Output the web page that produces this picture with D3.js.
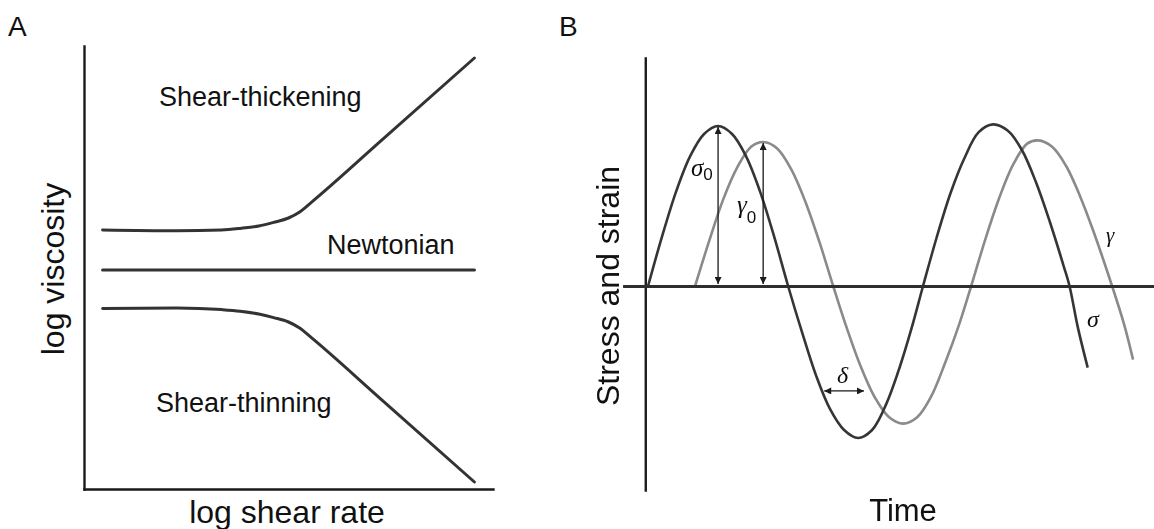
<!DOCTYPE html>
<html>
<head>
<meta charset="utf-8">
<script src="https://cdn.jsdelivr.net/npm/d3@7/dist/d3.min.js"></script>
<style>
  body { margin: 0; background: #fff; }
  svg { display: block; }
  text { font-family: "Liberation Sans", Arial, sans-serif; fill: #111; }
  .greek { font-family: "Liberation Serif", "Times New Roman", serif; font-style: italic; }
</style>
</head>
<body>
<svg id="fig" width="1154" height="529"></svg>
<script>
// ---------- Panel A: viscosity versus shear rate (log-log, schematic) ----------
const shearRate   = [0, 2, 3.2, 3.7, 4.2, 4.6, 5.0, 5.3, 5.6, 7.5, 10];
const thickening  = [1.0, 0.98, 1.0, 1.04, 1.10, 1.19, 1.30, 1.45, 1.68, 3.24, 5.30];
const newtonian   = [0, 0, 0, 0, 0, 0, 0, 0, 0, 0, 0];
const thinning    = [-0.96, -0.95, -0.99, -1.03, -1.10, -1.19, -1.30, -1.45, -1.68, -3.24, -5.30];
const flowLabels  = ["Shear-thickening", "Newtonian", "Shear-thinning"];

// ---------- Panel B: oscillatory stress and strain ----------
const sigmaTime  = [0, 0.5, 1, 1.5, 2, 2.5, 3, 3.5, 4, 4.5, 5, 5.5, 6, 6.5, 7, 7.5, 8, 8.5, 9, 9.4, 9.82,
                    10.3, 10.8, 11.3, 11.8, 12.32, 12.85, 13.35, 13.85, 14.35, 14.85, 15.05, 15.35, 15.7];
const sigmaValue = [0, 0.31, 0.59, 0.81, 0.95, 1.0, 0.95, 0.81, 0.59, 0.31, 0, -0.29, -0.56, -0.77, -0.90, -0.95,
                    -0.90, -0.74, -0.50, -0.27, 0, 0.30, 0.58, 0.80, 0.96, 1.01, 0.97, 0.85, 0.65, 0.40, 0.12, 0, -0.26, -0.51];
const gammaTime  = [1.68, 2.18, 2.68, 3.18, 3.68, 4.11, 4.61, 5.11, 5.61, 6.11, 6.61, 7.11, 7.61, 8.11, 8.61, 9.11,
                    9.61, 10.11, 10.61, 11.11, 11.54, 12.04, 12.54, 13.04, 13.54, 13.93, 14.43, 14.93, 15.43, 15.93,
                    16.57, 17.0, 17.32];
const gammaValue = [0, 0.28, 0.54, 0.74, 0.87, 0.90, 0.86, 0.73, 0.53, 0.28, 0, -0.27, -0.51, -0.70, -0.82, -0.86,
                    -0.82, -0.69, -0.48, -0.24, 0, 0.29, 0.55, 0.76, 0.89, 0.91, 0.87, 0.75, 0.56, 0.33, 0, -0.24, -0.46];
const amplitudeTime  = [2.5, 4.11];   // σ0 and γ0 arrows
const amplitudeValue = [1.0, 0.90];
const lagTime  = [6.29, 7.71];        // δ arrow span
const lagValue = -0.656;

const svg = d3.select("#fig");
const defs = svg.append("defs");
defs.append("filter").attr("id", "soft")
  .append("feGaussianBlur").attr("stdDeviation", 0.55);
defs.append("marker")
  .attr("id", "head").attr("viewBox", "0 0 10 10")
  .attr("refX", 10).attr("refY", 5)
  .attr("markerWidth", 9).attr("markerHeight", 7)
  .attr("markerUnits", "userSpaceOnUse")
  .attr("orient", "auto-start-reverse")
  .append("path").attr("d", "M0,0L10,5L0,10z").attr("fill", "#1a1a1a");

// ================= Panel A =================
const xA = d3.scaleLinear().domain([-0.5, 10.5]).range([84, 493]);
const yA = d3.scaleLinear().domain([-5.475, 5.6]).range([489, 46]);
const gA = svg.append("g");

const axisStyle = (g, w, c) => {
  g.select(".domain").attr("stroke", c).attr("stroke-width", w).attr("stroke-linecap", "square");
  g.selectAll(".tick").remove();
};
gA.append("g").attr("transform", `translate(0,${yA(-5.475)})`)
  .call(d3.axisBottom(xA).ticks(0).tickSizeOuter(0)).call(axisStyle, 2.4, "#1a1a1a");
gA.append("g").attr("transform", `translate(${xA(-0.5)},0)`)
  .call(d3.axisLeft(yA).ticks(0).tickSizeOuter(0)).call(axisStyle, 2.4, "#1a1a1a");

const lineA = d3.line().x(d => xA(d[0])).y(d => yA(d[1])).curve(d3.curveMonotoneX);
[thickening, newtonian, thinning].forEach(series => {
  gA.append("path")
    .datum(shearRate.map((r, i) => [r, series[i]]))
    .attr("d", lineA)
    .attr("fill", "none").attr("stroke", "#333").attr("stroke-width", 3)
    .attr("stroke-linecap", "round");
});

gA.append("text").attr("x", 159).attr("y", 106).attr("font-size", 27).text(flowLabels[0]);
gA.append("text").attr("x", 327).attr("y", 254).attr("font-size", 27).text(flowLabels[1]);
gA.append("text").attr("x", 156).attr("y", 412).attr("font-size", 27).text(flowLabels[2]);

gA.append("text").attr("x", 287).attr("y", 523).attr("font-size", 32)
  .attr("text-anchor", "middle").text("log shear rate");
gA.append("text").attr("transform", "translate(64,269) rotate(-90)").attr("font-size", 32)
  .attr("text-anchor", "middle").text("log viscosity");
svg.append("text").attr("x", 8).attr("y", 36).attr("font-size", 28).text("A");

// ================= Panel B =================
const xB = d3.scaleLinear().domain([-0.86, 18.1]).range([624, 1154.9]);
const yB = d3.scaleLinear().domain([-1.275, 1.425]).range([490, 58]);
const gB = svg.append("g").attr("filter", "url(#soft)");

gB.append("g").attr("transform", `translate(${xB(-0.1)},0)`)
  .call(d3.axisLeft(yB).ticks(0).tickSizeOuter(0)).call(axisStyle, 2.4, "#1e1e1e");

const lineB = d3.line().x(d => xB(d[0])).y(d => yB(d[1])).curve(d3.curveCatmullRom.alpha(0.5));
gB.append("path")
  .datum(gammaTime.map((t, i) => [t, gammaValue[i]]))
  .attr("d", lineB).attr("fill", "none").attr("stroke", "#8a8a8a").attr("stroke-width", 2.6);
gB.append("path")
  .datum(sigmaTime.map((t, i) => [t, sigmaValue[i]]))
  .attr("d", lineB).attr("fill", "none").attr("stroke", "#363636").attr("stroke-width", 2.6);

gB.append("g").attr("transform", `translate(0,${yB(0)})`)
  .call(d3.axisBottom(xB).ticks(0).tickSizeOuter(0)).call(axisStyle, 2.8, "#2e2e2e");

// amplitude arrows
amplitudeTime.forEach((t, i) => {
  gB.append("line")
    .attr("x1", xB(t)).attr("x2", xB(t))
    .attr("y1", yB(amplitudeValue[i]) + 1).attr("y2", yB(0) - 2)
    .attr("stroke", "#1a1a1a").attr("stroke-width", 1.3)
    .attr("marker-start", "url(#head)").attr("marker-end", "url(#head)");
});
// phase lag arrow
gB.append("line")
  .attr("x1", xB(lagTime[0])).attr("x2", xB(lagTime[1]))
  .attr("y1", yB(lagValue)).attr("y2", yB(lagValue))
  .attr("stroke", "#1a1a1a").attr("stroke-width", 1.3)
  .attr("marker-start", "url(#head)").attr("marker-end", "url(#head)");

// greek labels
const sig0 = gB.append("text").attr("x", 691).attr("y", 176).attr("fill", "#2a2a2a");
sig0.append("tspan").attr("class", "greek").attr("font-size", 25).text("σ");
sig0.append("tspan").attr("font-size", 17).attr("dy", 4).text("0");
const gam0 = gB.append("text").attr("x", 737).attr("y", 213).attr("fill", "#2a2a2a");
gam0.append("tspan").attr("class", "greek").attr("font-size", 25).text("γ");
gam0.append("tspan").attr("font-size", 17).attr("dy", 10).text("0");
gB.append("text").attr("class", "greek").attr("x", 837).attr("y", 383)
  .attr("font-size", 24).attr("fill", "#2a2a2a").text("δ");
gB.append("text").attr("class", "greek").attr("x", 1106).attr("y", 242)
  .attr("font-size", 21).attr("fill", "#7a7a7a").text("γ");
gB.append("text").attr("class", "greek").attr("x", 1087).attr("y", 327)
  .attr("font-size", 24).attr("fill", "#3a3a3a").text("σ");

svg.append("text").attr("x", 903).attr("y", 521).attr("font-size", 31)
  .attr("text-anchor", "middle").text("Time");
svg.append("text").attr("transform", "translate(619,286) rotate(-90)").attr("font-size", 32)
  .attr("text-anchor", "middle").text("Stress and strain");
svg.append("text").attr("x", 559).attr("y", 36).attr("font-size", 28).text("B");
</script>
</body>
</html>
